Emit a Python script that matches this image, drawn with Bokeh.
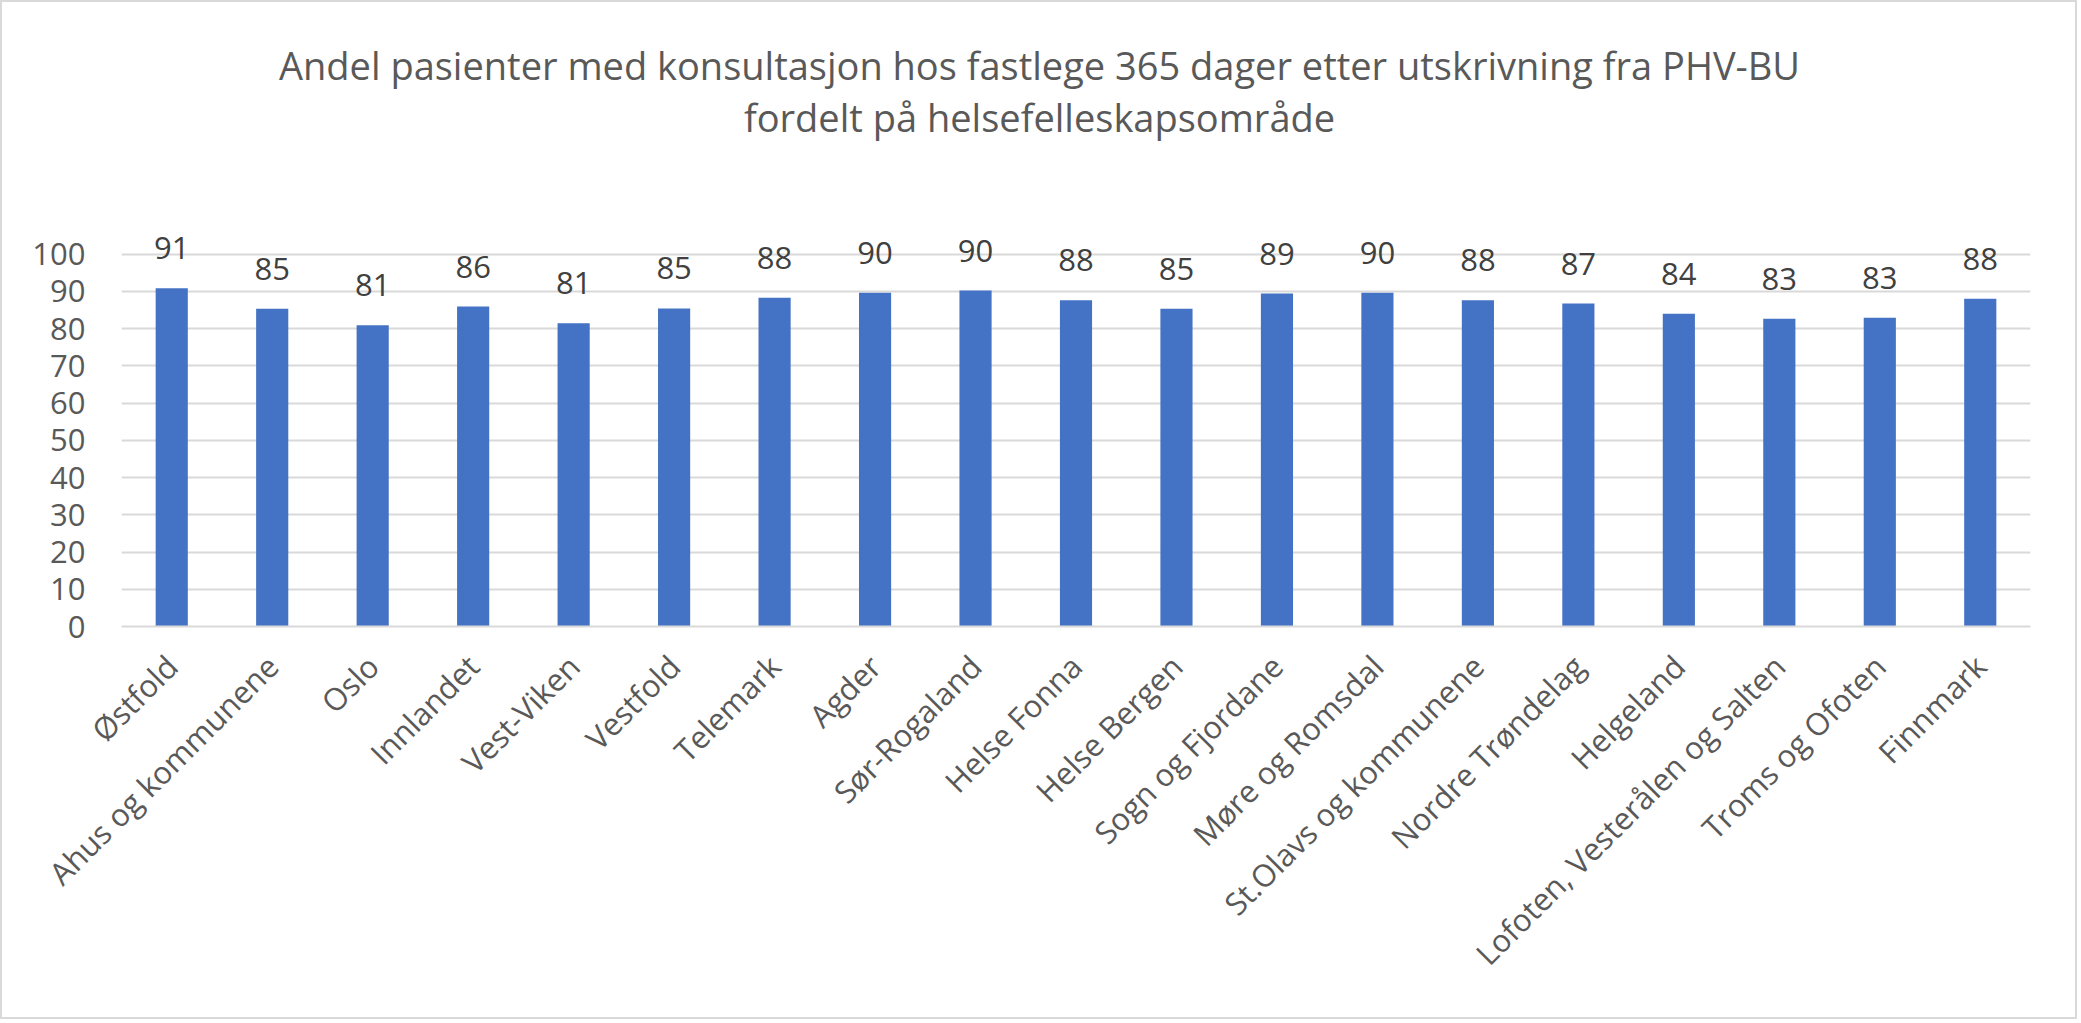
from bokeh.plotting import figure
from bokeh.models import Range1d, FactorRange, FixedTicker, ColumnDataSource
from bokeh.core.properties import value
from bokeh.embed import file_html
from bokeh.resources import INLINE
import math

title_lines = [
    "Andel pasienter med konsultasjon hos fastlege 365 dager etter utskrivning fra PHV-BU",
    "fordelt på helsefelleskapsområde",
]

categories = [
    "Østfold", "Ahus og kommunene", "Oslo", "Innlandet", "Vest-Viken", "Vestfold",
    "Telemark", "Agder", "Sør-Rogaland", "Helse Fonna", "Helse Bergen",
    "Sogn og Fjordane", "Møre og Romsdal", "St.Olavs og kommunene",
    "Nordre Trøndelag", "Helgeland", "Lofoten, Vesterålen og Salten",
    "Troms og Ofoten", "Finnmark",
]
values = [90.8, 85.3, 80.9, 85.9, 81.4, 85.4, 88.3, 89.6, 90.2, 87.6, 85.3,
          89.4, 89.6, 87.6, 86.7, 84.0, 82.6, 82.9, 88.0]
labels = ["91", "85", "81", "86", "81", "85", "88", "90", "90", "88", "85",
          "89", "90", "88", "87", "84", "83", "83", "88"]
y_ticks = [0, 10, 20, 30, 40, 50, 60, 70, 80, 90, 100]

FONT = "Open Sans"
GRAY = "#595959"

src = ColumnDataSource(dict(cat=categories, val=values, lab=labels))

p = figure(
    x_range=FactorRange(*categories),
    y_range=Range1d(0, 165.4),
    width=2077, height=1019,
    min_border_left=119, min_border_right=49,
    min_border_top=8, min_border_bottom=395,
    output_backend="svg", toolbar_location=None,
)
p.styles = {"border": "2px solid #d9d9d9"}
p.outline_line_color = None
p.background_fill_color = "white"
p.border_fill_color = "white"

p.vbar(x="cat", top="val", width=0.32, source=src, color="#4472c4", line_color=None)

p.text(x="cat", y="val", text="lab", source=src, y_offset=-40,
       text_align="center", text_baseline="alphabetic",
       text_font=value(FONT), text_font_size="31px", text_color="#404040")

# title: two centred lines, anchored near the middle category and nudged
title_src = ColumnDataSource(dict(
    cx=[categories[8], categories[8]],
    ty=[150.9, 136.9],
    txt=title_lines,
))
p.text(x="cx", y="ty", text="txt", source=title_src, x_offset=64,
       text_align="center", text_baseline="alphabetic",
       text_font=value(FONT), text_font_size="38px", text_color=GRAY)

# axes
p.yaxis.ticker = FixedTicker(ticks=y_ticks)
p.yaxis.axis_line_color = None
p.yaxis.major_tick_line_color = None
p.yaxis.minor_tick_line_color = None
p.yaxis.major_tick_out = 0
p.yaxis.major_label_standoff = 36
p.yaxis.major_label_text_font = FONT
p.yaxis.major_label_text_font_size = "31px"
p.yaxis.major_label_text_color = GRAY

p.xaxis.axis_line_color = "#d9d9d9"
p.xaxis.axis_line_width = 2
p.xaxis.major_tick_line_color = None
p.xaxis.major_tick_out = 0
p.xaxis.major_label_orientation = math.pi / 4
p.xaxis.major_label_standoff = 34
p.xaxis.major_label_text_font = FONT
p.xaxis.major_label_text_font_size = "31px"
p.xaxis.major_label_text_color = GRAY

p.xgrid.grid_line_color = None
p.ygrid.grid_line_color = "#d9d9d9"
p.ygrid.grid_line_width = 2

open("out.html", "w").write(file_html(p, INLINE))
